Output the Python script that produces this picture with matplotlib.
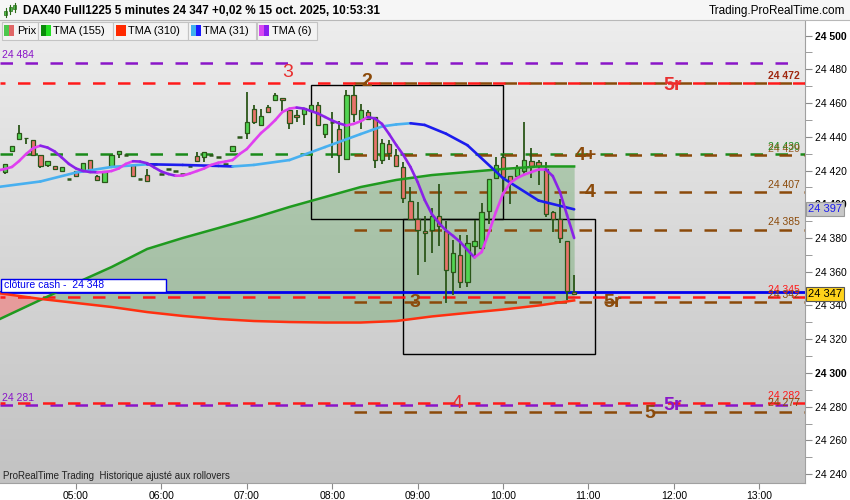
import numpy as np
import matplotlib.pyplot as plt
from matplotlib.patches import Rectangle
from matplotlib.collections import LineCollection
from matplotlib.colors import LinearSegmentedColormap

plt.rcParams['font.family'] = ['Liberation Sans', 'DejaVu Sans']

# ----------------------------------------------------------
#   Données (DAX40, bougies 5 minutes)
# ----------------------------------------------------------

debut = 250  # 04:10 en minutes depuis minuit, une bougie toutes les 5 min

ouv = [24419, 24431.5, 24438.5, 24439.5, 24438, 24429, 24423.5, 24422.5, 24419.5, 24415,
       24419.5, 24419.5, 24426.5, 24416.5, 24413, 24422.5, 24429.5, 24429, 24423.5, 24415,
       24417.5, 24424, 24418, 24421, 24419.5, 24418, 24422.5, 24428.5, 24428, 24429,
       24428, 24424, 24431.5, 24440, 24442.5, 24456.5, 24447, 24457.5, 24462, 24463,
       24456, 24453, 24453.5, 24455.5, 24459, 24441.5, 24449, 24444.5, 24427, 24464.5,
       24450, 24454.5, 24451.5, 24426.5, 24435.5, 24429, 24422, 24402, 24391.5, 24384,
       24385, 24393, 24384, 24360, 24370, 24354, 24375.5, 24374, 24396, 24415.5,
       24428, 24416.5, 24416.5, 24419.5, 24425.5, 24425, 24421, 24395.5, 24391.5, 24378,
       24348]
haut = [24424, 24434.5, 24447, 24439.5, 24438, 24429, 24425.5, 24422.5, 24422, 24415,
        24419.5, 24424.5, 24426.5, 24417.5, 24419.5, 24429, 24431.5, 24429, 24423.5, 24415,
        24421, 24424, 24418, 24421, 24419.5, 24418, 24422.5, 24431, 24431, 24429,
        24428, 24424, 24434.5, 24440, 24466.5, 24459, 24456.5, 24459, 24466, 24463,
        24457, 24456, 24457, 24459, 24460.5, 24447.5, 24454.5, 24449.5, 24467.5, 24470.5,
        24459.5, 24456, 24451.5, 24438.5, 24438, 24432.5, 24425, 24410, 24401.5, 24393,
        24397.5, 24412, 24390, 24379, 24382, 24382, 24390.5, 24400.5, 24415, 24428,
        24430, 24416.5, 24423.5, 24448.5, 24433.5, 24426.5, 24425, 24396, 24403, 24378,
        24358]
bas = [24418, 24431.5, 24438, 24435.5, 24428.5, 24421.5, 24422, 24421, 24419.5, 24415,
       24416.5, 24419.5, 24419, 24414.5, 24413, 24422.5, 24427.5, 24429, 24416.5, 24415,
       24414, 24424, 24418, 24421, 24419.5, 24418, 24422.5, 24425.5, 24425, 24429,
       24428, 24424, 24431.5, 24440, 24438.5, 24447.5, 24447, 24454.5, 24462, 24455,
       24444.5, 24448.5, 24447, 24455, 24447, 24439.5, 24427.5, 24418.5, 24427, 24448.5,
       24444.5, 24450, 24421.5, 24424, 24426.5, 24422, 24400.5, 24391, 24358, 24366,
       24371, 24375, 24341.5, 24346, 24350.5, 24351, 24369, 24372, 24388.5, 24415.5,
       24407.5, 24400, 24416.5, 24417.5, 24415.5, 24411.5, 24392.5, 24383.5, 24377, 24343.5,
       24346]
clot = [24424, 24434.5, 24442.5, 24439, 24429, 24422.5, 24425.5, 24421, 24422, 24415,
        24416.5, 24424.5, 24419, 24414.5, 24419.5, 24429, 24431.5, 24429, 24416.5, 24415,
        24414, 24424, 24418, 24421, 24419.5, 24418, 24422.5, 24425.5, 24431, 24429,
        24428, 24424, 24434.5, 24440, 24448.5, 24448.5, 24452.5, 24454.5, 24464.5, 24461.5,
        24448, 24452, 24457, 24459, 24447, 24447.5, 24449, 24429, 24464.5, 24453.5,
        24456, 24450.5, 24426.5, 24436.5, 24430.5, 24422.5, 24403.5, 24391.5, 24385, 24383,
        24393, 24387, 24361, 24371, 24354, 24377, 24378, 24395.5, 24415, 24423.5,
        24416, 24413.5, 24422, 24426.5, 24422.5, 24422.5, 24394, 24391, 24380, 24348.5,
        24347]

# moyennes lentes, relevées toutes les 5 bougies
k_lent = [-1, 5, 10, 15, 20, 25, 30, 35, 40, 45, 50, 55, 60, 65, 70, 75, 80]
tma155 = [24331.4, 24343.3, 24353.3, 24362.8, 24373.5, 24380.0, 24385.9, 24391.9, 24398.4,
          24404.3, 24410.2, 24414.4, 24417.3, 24419.1, 24420.9, 24422.4, 24422.4]
tma310 = [24347.4, 24343.9, 24341.5, 24339.1, 24336.1, 24333.8, 24332.0, 24330.8, 24330.2,
          24329.9, 24329.9, 24330.8, 24333.5, 24335.6, 24337.6, 24340.0, 24343.0]

k_31 = [-1, 5, 10, 15, 20, 25, 30, 32, 35, 40, 45, 50, 53, 55, 57, 59, 62, 65, 70, 75, 80]
tma31 = [24410.2, 24413.5, 24418.8, 24422.1, 24423.7, 24423.3, 24422.7, 24422.4, 24423.3,
         24426.2, 24433.9, 24441.6, 24446.1, 24447.3, 24448.0, 24447.0, 24441.8, 24435.0,
         24415.5, 24402.2, 24397.0]

# moyenne rapide, une valeur par bougie (k = -1 .. 80)
tma6 = [24420.0, 24420.9, 24422.1, 24425.6, 24429.8, 24433.3, 24434.7, 24433.6, 24431.3, 24427.7,
        24423.9, 24421.2, 24419.7, 24419.1, 24418.9, 24419.1, 24419.7, 24421.2, 24423.9, 24425.5,
        24425.3, 24424.3, 24421.8, 24419.4, 24417.9, 24416.9, 24417.0, 24418.2, 24419.7, 24421.2,
        24423.3, 24424.6, 24425.3, 24426.2, 24429.8, 24432.7, 24437.5, 24442.2, 24445.8, 24449.9,
        24454.7, 24456.7, 24457.3, 24456.7, 24455.3, 24453.8, 24451.7, 24449.6, 24447.9, 24446.7,
        24447.6, 24449.2, 24451.7, 24450.8, 24447.6, 24441.6, 24435.1, 24429.2, 24422.1, 24413.2,
        24402.5, 24394.2, 24388.9, 24384.5, 24381.2, 24377.6, 24372.9, 24368.5, 24371.7, 24383.0,
        24395.4, 24406.1, 24412.6, 24415.6, 24417.6, 24419.1, 24420.6, 24420.6, 24416.7, 24407.3,
        24393.6, 24380.0]

cloture_cash = 24348
dernier = 24347

# niveaux tracés sur le graphique
niv_violet = [24484, 24281]
niv_rouge = [24472, 24345, 24282]
niv_vert = [24430]
niv_brun = [24472, 24429, 24407, 24385, 24342, 24277]
debut_brun = 495  # 08:15

# rectangles (début, fin en minutes ; bas, haut en prix)
boites = [(465, 600, 24391.3, 24470.7), (530, 665, 24311.1, 24391.3)]

heures = ["05:00", "06:00", "07:00", "08:00", "09:00", "10:00", "11:00", "12:00", "13:00"]

# ----------------------------------------------------------
#   Figure
# ----------------------------------------------------------

VERT = '#52d452'
ROUGE_B = '#e8736b'
BORD = '#2b5619'
BRUN = '#8b4a0a'
ROUGE = '#ff1a1a'
VIOLET = '#8a16c8'

fig = plt.figure(figsize=(8.5, 5), dpi=100)
ax = fig.add_axes([0, 17 / 500, 805 / 850, 463 / 500])
X0, X1 = 246.6, 812.2
Y0, Y1 = 24234.8, 24509.2

fond = LinearSegmentedColormap.from_list('fond', ['#c2c2c2', '#ededed'])
ax.imshow(np.linspace(0, 1, 256)[:, None], extent=[X0, X1, Y0, Y1], origin='lower',
          aspect='auto', cmap=fond, zorder=0)
ax.set_xlim(X0, X1)
ax.set_ylim(Y0, Y1)

# zone entre TMA155 et TMA310
t_lent = np.array(k_lent) * 5 + debut
g = np.array(tma155)
r = np.array(tma310)
ax.fill_between(t_lent, g, r, where=g >= r, interpolate=True, color='#2f8c2f', alpha=0.28, lw=0, zorder=1)
ax.fill_between(t_lent, g, r, where=g < r, interpolate=True, color='#ff5a5a', alpha=0.45, lw=0, zorder=1)

# rectangles
for x0, x1, b, h in boites:
    ax.add_patch(Rectangle((x0, b), x1 - x0, h - b, fill=False, ec='black', lw=1.0, zorder=2))

# niveaux en pointillés
tirets = (0, (5, 5))
for v in niv_violet:
    ax.plot([X0, 803], [v, v], color=VIOLET, lw=1.8, ls=tirets, zorder=3)
for v in niv_rouge:
    ax.plot([X0, X1], [v, v], color=ROUGE, lw=1.8, ls=(3, (5, 5)), zorder=3.2)
for v in niv_vert:
    ax.plot([X0, X1], [v, v], color='#1a8a1a', lw=1.8, ls=tirets, zorder=3)
for v in niv_brun:
    ax.plot([debut_brun, X1], [v, v], color=BRUN, lw=1.8, ls=(0, (5, 5)), zorder=3.1)

ax.axhline(cloture_cash, color='#0000ee', lw=2, zorder=3.3)

# bougies
temps = debut + 5 * np.arange(len(ouv))
for t, o, h, l, c in zip(temps, ouv, haut, bas, clot):
    ax.vlines(t, l, h, color=BORD, lw=1.3, zorder=4)
    if abs(c - o) < 0.3:
        ax.hlines(o, t - 1.6, t + 1.6, color=BORD, lw=1.8, zorder=5)
    else:
        ax.add_patch(Rectangle((t - 1.5, min(o, c)), 3.0, abs(c - o),
                               fc=VERT if c > o else ROUGE_B, ec=BORD, lw=0.9, zorder=5))

# moyennes mobiles
ax.plot(t_lent, g, color='#1f9a1f', lw=1.8, zorder=6)
ax.plot(t_lent, r, color='#ff3010', lw=1.8, zorder=6)


def ligne_bicolore(kk, vals, c_hausse, c_baisse):
    tt = np.array(kk) * 5 + debut
    vv = np.array(vals)
    segs = [[(tt[i], vv[i]), (tt[i + 1], vv[i + 1])] for i in range(len(tt) - 1)]
    cols = [c_hausse if vv[i + 1] >= vv[i] else c_baisse for i in range(len(tt) - 1)]
    ax.add_collection(LineCollection(segs, colors=cols, lw=1.9, capstyle='round', zorder=7))


ligne_bicolore(k_31, tma31, '#48b0f0', '#1c1cee')
ligne_bicolore(list(range(-1, 81)), tma6, '#e040f0', '#8a22e8')

# étiquettes des vagues
gros = dict(fontsize=14, ha='center', va='center', zorder=8)
ax.text(449, 24478, "3", color='#e83030', **gros)
ax.text(504, 24473, "2", color=BRUN, fontweight='bold', **gros)
ax.text(719, 24470.5, "5r", color='#e83030', fontweight='bold', **gros)
ax.text(658, 24429, "4+", color=BRUN, fontweight='bold', **gros)
ax.text(661, 24407, "4", color=BRUN, fontweight='bold', **gros)
ax.text(538, 24342, "3", color=BRUN, fontweight='bold', **gros)
ax.text(677, 24342, "5r", color=BRUN, fontweight='bold', **gros)
ax.text(568, 24282, "4", color='#e83030', **gros)
ax.text(719, 24281, "5r", color=VIOLET, fontweight='bold', **gros)
ax.text(703, 24276, "5", color=BRUN, fontweight='bold', **gros)

# valeurs des niveaux
def fmt(v):
    v = int(round(v))
    return f"{v // 1000} {v % 1000:03d}"

ax.text(X0 + 1.5, 24484 + 1.5, fmt(24484), color=VIOLET, fontsize=7.5, va='bottom', zorder=8)
ax.text(X0 + 1.5, 24281 + 1.5, fmt(24281), color=VIOLET, fontsize=7.5, va='bottom', zorder=8)
tr = ax.get_yaxis_transform()
droite = dict(transform=tr, fontsize=7.5, ha='right', va='bottom', zorder=8)
ax.text(0.994, 24473, fmt(24472), color='#a02810', fontweight='bold', **droite)
ax.text(0.994, 24431, fmt(24430), color='#1a8a1a', **droite)
ax.text(0.994, 24430, fmt(24429), color=BRUN, alpha=0.85, **droite)
ax.text(0.994, 24408.5, fmt(24407), color=BRUN, **droite)
ax.text(0.994, 24386.5, fmt(24385), color=BRUN, **droite)
ax.text(0.994, 24346.5, fmt(24345), color=ROUGE, **droite)
ax.text(0.994, 24343, fmt(24342), color=BRUN, **droite)
ax.text(0.994, 24283.5, fmt(24282), color=ROUGE, **droite)
ax.text(0.994, 24279.5, fmt(24277), color=BRUN, **droite)

# étiquettes de prix sur l'axe
ax.text(1.004, tma31[-1], fmt(tma31[-1]), transform=tr, fontsize=8, color='#1c1cee',
        va='center', ha='left', clip_on=False, zorder=9,
        bbox=dict(fc='#c8c8c8', ec='#9a9a9a', lw=0.8, pad=1.5))
ax.text(1.004, dernier, fmt(dernier), transform=tr, fontsize=8, color='black',
        va='center', ha='left', clip_on=False, zorder=9,
        bbox=dict(fc='#ffd21a', ec='#555555', lw=0.8, pad=1.5))

# axes
ax.yaxis.tick_right()
yt = np.arange(24240, 24501, 20)
ax.set_yticks(yt)
ax.set_yticks(np.arange(24240, 24510, 10), minor=True)
ax.set_yticklabels([fmt(v) for v in yt])
for lab, v in zip(ax.get_yticklabels(), yt):
    if v % 100 == 0:
        lab.set_fontweight('bold')
ax.tick_params(axis='y', which='both', direction='out', length=5, color='#8a8a8a',
               labelsize=7.5, pad=2)
ax.set_xticks(np.arange(300, 781, 60))
ax.set_xticklabels(heures)
ax.tick_params(axis='x', length=4, color='#8a8a8a', labelsize=7.5, pad=2)
for s in ['top', 'left']:
    ax.spines[s].set_visible(False)
for s in ['right', 'bottom']:
    ax.spines[s].set_color('#a0a0a0')

# ----------------------------------------------------------
#   Bandeau, légende, cartouches (coordonnées en pixels)
# ----------------------------------------------------------

ov = fig.add_axes([0, 0, 1, 1], zorder=10)
ov.set_xlim(0, 850)
ov.set_ylim(500, 0)
ov.axis('off')

ov.add_patch(Rectangle((0, 0), 850, 19.5, fc='#f6f6f6', ec='none'))
ov.plot([0, 850], [19.5, 19.5], color='#b8b8b8', lw=0.8)
# petite icône chandeliers
for xi, y0, y1, b0, b1 in [(6, 8, 17, 11, 15), (10.5, 5, 14, 7, 11), (15, 3, 12, 5, 9)]:
    ov.plot([xi, xi], [y0, y1], color='#2b6a19', lw=0.8)
    ov.add_patch(Rectangle((xi - 1.5, b0), 3, b1 - b0, fc='#4cc84c', ec='#2b6a19', lw=0.5))
ov.text(23, 11, "DAX40 Full1225 5 minutes 24 347 +0,02 % 15 oct. 2025, 10:53:31",
        fontsize=8.5, fontweight='bold', va='center', ha='left')
ov.text(845, 11, "Trading.ProRealTime.com", fontsize=8.5, va='center', ha='right')

legende = [("Prix", 2, 37.7, ('#4cc84c', '#e06666')),
           ("TMA (155)", 38.5, 112.7, ('#0a8a0a', '#22e022')),
           ("TMA (310)", 113.5, 187.7, ('#ff2a00', '#ff2a00')),
           ("TMA (31)", 188.5, 256, ('#3fb0ee', '#1a1aff')),
           ("TMA (6)", 256.8, 316.7, ('#d848f0', '#8a1ef0'))]
for nom, x0, x1, (c1, c2) in legende:
    ov.add_patch(Rectangle((x0, 21.5), x1 - x0, 18, fc='#f3f3f3', ec='#c4c4c4', lw=0.8))
    ov.add_patch(Rectangle((x0 + 2.5, 25), 4.8, 11, fc=c1, ec='none'))
    ov.add_patch(Rectangle((x0 + 7.3, 25), 4.8, 11, fc=c2, ec='none'))
    ov.text(x0 + 15, 30.5, nom, fontsize=8, va='center', ha='left')

ov.add_patch(Rectangle((0.5, 279), 165.5, 12.5, fc='white', ec='#0000ee', lw=1))
ov.text(4, 285.5, "clôture cash -  24 348", fontsize=7.5, color='#0000ee', va='center', ha='left')
ov.text(3, 476, "ProRealTime Trading  Historique ajusté aux rollovers", fontsize=7,
        color='#222222', va='center', ha='left')

fig.savefig("out.png", dpi=100)
